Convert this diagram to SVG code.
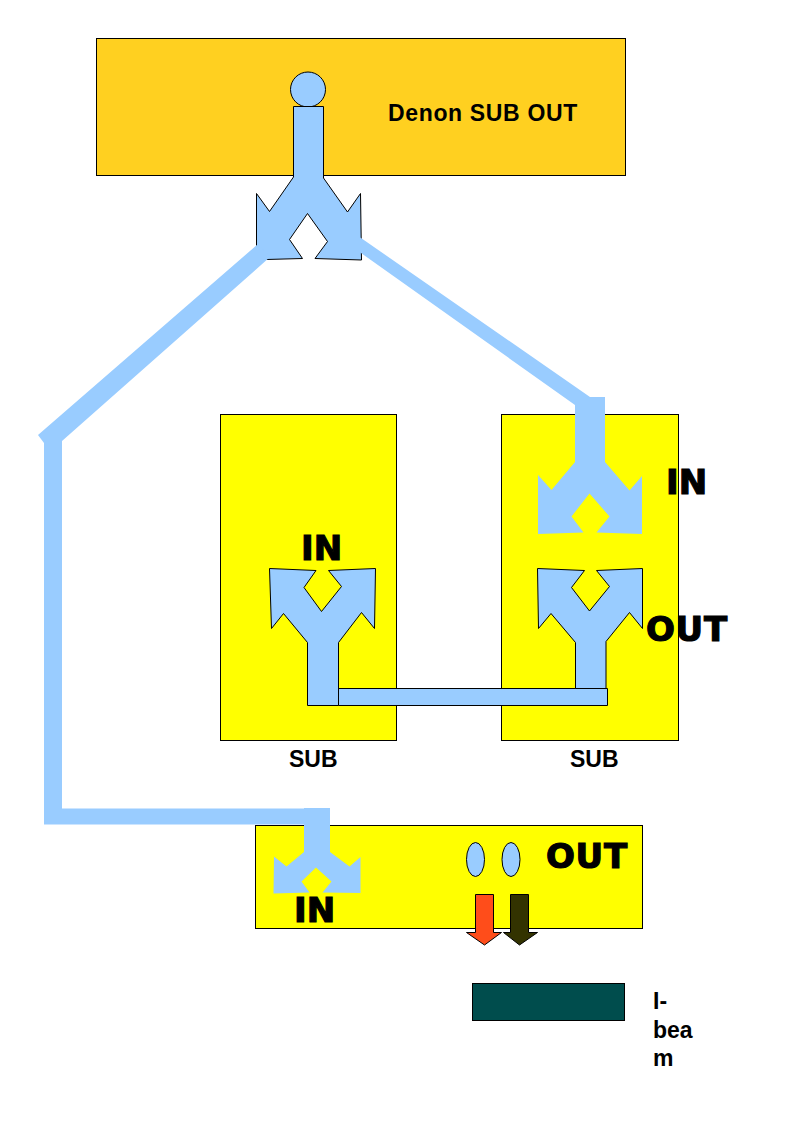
<svg xmlns="http://www.w3.org/2000/svg" width="794" height="1123" viewBox="0 0 794 1123">
<style>
.box{stroke:#000;stroke-width:1}
.blue{fill:#99ccff}
.ol{stroke:#000;stroke-width:1;stroke-linejoin:miter}
.big{font-family:"DejaVu Sans",sans-serif;font-weight:bold;font-size:34px;fill:#000;stroke:#000;stroke-width:1.2px}
.lab{font-family:"Liberation Sans",Arial,sans-serif;font-weight:bold;font-size:23px;fill:#000}
</style>
<rect width="794" height="1123" fill="#fff"/>
<g id="denon"><rect class="box" x="96.500" y="38.500" width="529" height="137" fill="#ffd020"/><text class="lab" x="388" y="120.500" style="letter-spacing:.65px">Denon SUB OUT</text></g>
<g id="sub-left"><rect class="box" x="220.500" y="414.500" width="176" height="326" fill="#ffff00"/><text class="lab" x="289" y="767">SUB</text></g>
<g id="sub-right"><rect class="box" x="501.500" y="414.500" width="177" height="326" fill="#ffff00"/><text class="lab" x="570" y="767">SUB</text></g>
<g id="amp"><rect class="box" x="255.500" y="825.500" width="387" height="103" fill="#ffff00"/></g>
<g id="jack-top">
<circle class="blue ol" cx="308" cy="89.500" r="17.500"/>
<polygon class="blue ol" points="293.500,106.500 323.500,106.500 323.500,178 347.500,212 360.500,193.500 361.500,260 315,258.500 327.500,241.500 307.500,213.500 289.500,239.500 302.500,258.500 266,259.500 256.500,246 256.500,193.500 269.500,211.500 293.500,177"/>
</g>
<g id="connectors">
<polygon class="blue" points="38,435 258,244 270,257 62,441 62,808.500 304,808.500 304,824.500 44,824.500 44,443"/>
<polygon class="blue" points="359,237 361,238 590,397 605,397 605,462 575,462 575,405 361,253 359,252"/>
<polygon class="blue ol" points="338.500,688.500 607.500,688.500 607.500,705.500 338.500,705.500"/>
</g>
<g id="y-right-in"><polygon class="blue" points="575,462 551.500,490 538,475 538,534 583.500,532.500 571.500,516.500 589.500,493.500 609.500,516.500 596.500,532.500 642,534 642,476 629.500,490.500 605,462"/></g>
<g id="y-right-out"><polygon class="blue ol" points="537.500,568.500 584.500,570.500 571.500,587.500 589.500,611 609.500,586.500 596.500,570.500 642.500,568.500 642.500,628.500 629.500,612.500 606,641.500 606,688.500 575.500,688.500 575.500,642.500 551,613.500 538.500,628.500"/></g>
<g id="y-left"><polygon class="blue ol" points="269.500,568.500 316,570.500 304,587.500 321.500,611.500 341.500,586.500 328.500,570.500 375.500,568.500 374.500,628.500 361.500,612.500 338.500,642.500 338.500,705.500 307.500,705.500 307.500,642.500 283.500,613.500 271.500,628.500"/></g>
<g id="y-bottom"><polygon class="blue" points="304,808 330,808 330,852 349.500,866.500 360.500,857 360.500,893 322.500,892.500 331.500,881.500 316,867.500 301.500,881.500 309.500,892.500 273.500,893.500 274,856.500 286.500,866.500 304,852"/></g>
<g id="jacks"><ellipse class="blue ol" cx="475.500" cy="859.500" rx="9" ry="17"/><ellipse class="blue ol" cx="511" cy="859.500" rx="9" ry="17"/></g>
<g id="arrow-red"><polygon class="ol" fill="#ff4d1a" points="475.500,894.500 493.500,894.500 493.500,932.500 501.500,932.500 484.500,945 466.500,932.500 475.500,932.500"/></g>
<g id="arrow-olive"><polygon class="ol" fill="#333300" points="510.500,894.500 528.500,894.500 528.500,932.500 537.500,932.500 519.500,945 503.500,932.500 510.500,932.500"/></g>
<g id="ibeam"><rect class="box" x="472.500" y="983.500" width="152" height="37" fill="#004d4d"/><text class="lab" x="653" y="1009">I-</text><text class="lab" x="653" y="1038">bea</text><text class="lab" x="653" y="1066">m</text></g>
<text class="big" x="666" y="494">IN</text>
<text class="big" x="646" y="641" style="letter-spacing:.7px">OUT</text>
<text class="big" x="301" y="560">IN</text>
<text class="big" x="546" y="868" style="letter-spacing:.7px">OUT</text>
<text class="big" x="294" y="922">IN</text>
</svg>
